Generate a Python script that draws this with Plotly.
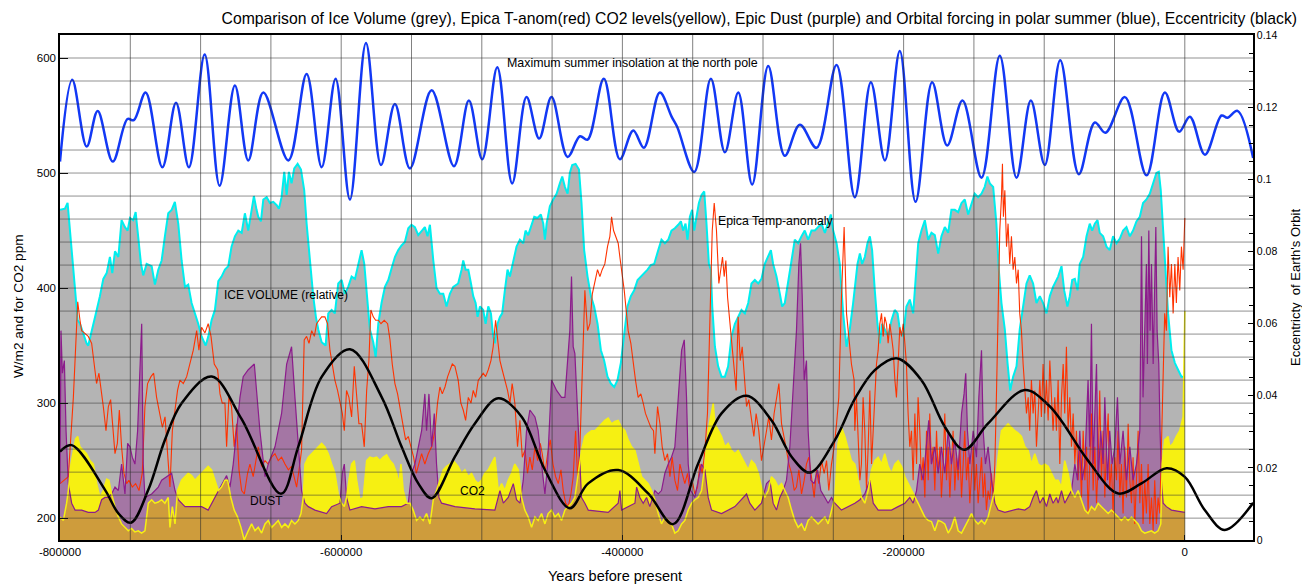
import plotly.graph_objects as go

# ---------------- data (x in thousands of years, y in left-axis units unless noted) -------------
ICE = [(-800.0,468),(-796.5,469),(-794.6,474),(-792.9,450),(-790.5,421),(-788.9,398),(-787.4,372),(-785.8,369),
(-783.4,361),(-781.1,352),(-779.9,350),(-778.0,359),(-776.3,369),(-773.9,381),(-771.6,393),(-769.2,408),(-766.8,413),
(-764.5,427),(-762.8,413),(-760.9,432),(-758.5,427),(-756.2,459),(-753.8,453),(-751.9,450),(-750.2,461),(-747.9,459),
(-746.2,466),(-744.3,445),(-742.4,421),(-740.8,411),(-738.4,421),(-734.8,419),(-732.5,403),(-730.1,416),(-727.7,424),
(-725.4,445),(-723.0,465),(-720.6,468),(-718.3,475),(-715.9,456),(-713.5,424),(-711.1,401),(-708.8,403),(-706.4,387),
(-704.0,378),(-701.7,369),(-699.3,358),(-696.4,350),(-694.5,358),(-692.2,372),(-689.8,381),(-687.4,406),(-685.1,410),
(-682.7,416),(-680.3,419),(-678.0,436),(-675.6,445),(-673.2,450),(-670.8,448),(-668.5,465),(-666.1,450),(-663.7,466),
(-662.1,480),(-660.2,468),(-659.0,462),(-657.1,458),(-655.4,477),(-653.0,479),(-650.7,474),(-648.3,475),(-645.9,472),
(-644.3,469),(-642.4,479),(-640.5,501),(-638.8,481),(-637.2,501),(-635.3,491),(-633.4,504),(-631.0,508),(-628.6,503),
(-626.3,485),(-624.6,456),(-622.2,421),(-619.9,393),(-618.0,375),(-616.3,364),(-613.9,353),(-611.1,350),(-609.2,378),
(-606.8,381),(-604.5,378),(-602.1,404),(-599.7,407),(-597.4,395),(-595.0,401),(-592.6,410),(-590.2,408),(-587.9,419),
(-585.5,433),(-583.6,421),(-582.0,395),(-579.6,364),(-577.2,353),(-575.5,340),(-573.6,369),(-571.3,387),(-568.9,401),
(-566.5,407),(-564.2,417),(-561.8,427),(-559.4,433),(-557.1,437),(-554.7,440),(-552.3,452),(-550.0,455),(-547.6,453),
(-545.2,446),(-542.8,450),(-540.5,453),(-538.6,445),(-536.9,455),(-534.5,424),(-532.2,400),(-529.8,395),(-527.4,395),
(-525.1,384),(-522.7,395),(-520.3,401),(-516.8,404),(-514.4,416),(-513.2,424),(-511.5,416),(-509.6,416),(-507.7,404),
(-506.1,393),(-504.4,387),(-503.0,375),(-501.3,384),(-499.0,381),(-497.3,369),(-495.4,384),(-493.5,378),(-491.9,358),
(-490.7,352),(-488.8,369),(-487.1,375),(-485.5,378),(-483.6,398),(-481.7,416),(-480.0,410),(-477.6,424),(-475.3,436),
(-472.9,442),(-470.5,439),(-468.9,450),(-467.0,446),(-465.1,453),(-462.7,462),(-460.3,461),(-458.0,464),(-456.3,456),
(-455.1,442),(-453.9,456),(-451.6,471),(-449.2,477),(-446.8,482),(-444.5,491),(-442.8,497),(-440.9,488),(-439.0,482),
(-437.4,500),(-435.7,507),(-433.3,508),(-430.9,503),(-429.1,474),(-427.2,433),(-424.8,410),(-422.4,393),(-420.1,384),
(-417.7,369),(-415.3,346),(-413.0,337),(-410.6,323),(-408.2,317),(-405.8,314),(-403.5,320),(-401.1,335),(-398.7,358),
(-396.4,384),(-394.0,393),(-391.6,398),(-389.2,407),(-386.9,410),(-384.5,413),(-382.1,416),(-379.8,420),(-377.4,421),
(-374.5,433),(-372.2,442),(-369.8,439),(-367.4,442),(-365.1,450),(-362.7,452),(-360.3,455),(-358.4,458),(-356.8,450),
(-355.1,456),(-353.7,442),(-352.0,462),(-350.4,468),(-348.9,450),(-347.3,462),(-345.6,474),(-343.7,481),(-341.8,484),
(-340.2,456),(-338.5,421),(-337.1,416),(-336.1,384),(-334.2,349),(-331.9,332),(-329.5,323),(-327.1,323),(-324.8,332),
(-322.4,358),(-320.0,369),(-317.7,375),(-315.3,381),(-312.9,378),(-310.5,387),(-308.2,404),(-305.8,407),(-303.4,404),
(-301.1,408),(-298.7,421),(-296.3,427),(-294.4,433),(-292.8,421),(-290.4,410),(-288.0,395),(-286.4,384),(-284.5,387),
(-282.1,404),(-279.7,424),(-277.4,442),(-275.0,439),(-272.6,445),(-270.3,450),(-267.9,442),(-265.5,450),(-263.1,450),
(-260.8,453),(-258.4,456),(-256.0,448),(-253.7,456),(-251.8,464),(-250.1,450),(-247.7,439),(-245.4,421),(-243.0,378),
(-240.6,349),(-238.3,364),(-235.9,387),(-232.8,421),(-231.1,430),(-229.5,421),(-227.6,427),(-225.7,439),(-224.0,445),
(-222.4,433),(-220.5,398),(-218.6,369),(-216.9,352),(-215.3,369),(-213.4,364),(-211.0,358),(-208.6,372),(-206.3,381),
(-204.3,378),(-202.7,364),(-200.3,358),(-198.0,384),(-195.6,390),(-193.2,378),(-191.5,407),(-189.6,439),(-187.3,450),
(-184.9,459),(-182.5,442),(-180.2,448),(-177.8,446),(-175.4,430),(-173.1,445),(-170.7,453),(-168.3,448),(-166.0,468),
(-163.6,468),(-161.2,466),(-158.8,474),(-156.5,477),(-154.1,464),(-151.7,474),(-149.4,482),(-147.0,479),(-144.6,482),
(-142.3,488),(-140.4,497),(-138.7,491),(-136.3,488),(-134.0,456),(-132.3,416),(-130.4,387),(-128.0,364),(-126.1,335),
(-124.2,311),(-122.1,323),(-119.7,332),(-117.4,364),(-115.0,384),(-112.6,404),(-110.3,411),(-107.9,404),(-105.5,387),
(-103.1,393),(-100.8,387),(-98.4,378),(-96.0,393),(-93.7,401),(-90.1,410),(-87.7,419),(-85.8,398),(-83.5,384),
(-81.8,393),(-80.1,407),(-78.2,408),(-76.3,398),(-74.7,421),(-72.3,427),(-69.9,445),(-67.6,456),(-65.9,450),(-64.0,456),
(-62.1,459),(-60.5,448),(-58.1,445),(-55.7,436),(-53.4,433),(-51.0,445),(-48.6,439),(-46.2,443),(-43.9,450),(-41.5,453),
(-39.1,445),(-36.8,450),(-34.4,458),(-32.0,462),(-29.7,474),(-27.3,477),(-24.9,482),(-22.5,491),(-20.2,500),(-18.5,501),
(-17.1,485),(-15.4,450),(-13.8,416),(-11.9,378),(-9.5,346),(-7.1,335),(-4.8,329),(-2.4,323),(0.0,323)]

CO2 = [(-800.0,201),(-797.6,198),(-795.3,213),(-794.1,224),(-792.2,247),(-790.5,259),(-788.9,269),(-787.4,271),
(-785.8,262),(-783.4,259),(-781.1,256),(-778.7,250),(-776.3,247),(-773.9,230),(-771.6,218),(-769.2,224),(-766.8,234),
(-765.2,233),(-763.3,221),(-760.9,210),(-758.5,201),(-756.2,195),(-753.8,192),(-751.4,189),(-749.1,191),(-746.7,188),
(-744.3,189),(-742.0,187),(-739.6,189),(-737.2,213),(-734.8,216),(-732.5,213),(-730.1,214),(-727.7,216),(-725.4,213),
(-723.0,218),(-721.8,192),(-720.1,210),(-718.2,195),(-716.4,224),(-713.5,233),(-711.1,236),(-708.8,239),(-706.4,237),
(-704.0,233),(-701.7,236),(-699.3,239),(-696.9,242),(-694.6,245),(-692.2,242),(-689.8,233),(-687.4,224),(-685.1,227),
(-682.7,233),(-680.8,233),(-678.5,218),(-676.1,207),(-673.7,201),(-671.3,192),(-669.0,181),(-666.1,189),(-663.7,195),
(-661.3,189),(-659.0,192),(-656.6,187),(-654.2,195),(-651.9,198),(-649.5,192),(-647.1,195),(-644.8,198),(-642.4,192),
(-640.0,195),(-637.6,192),(-635.3,198),(-632.9,195),(-630.5,198),(-628.6,204),(-627.0,218),(-625.8,247),(-623.4,253),
(-621.0,256),(-618.7,259),(-616.3,262),(-613.9,265),(-611.6,262),(-609.2,256),(-606.8,247),(-604.5,239),(-602.1,221),
(-599.7,213),(-597.8,210),(-596.2,218),(-594.5,233),(-592.6,247),(-590.7,250),(-589.0,233),(-586.7,216),(-584.3,218),
(-581.9,250),(-579.6,253),(-577.2,252),(-574.8,253),(-572.5,250),(-570.1,253),(-567.7,255),(-565.3,250),(-563.0,247),
(-560.6,239),(-558.9,230),(-557.5,247),(-555.9,224),(-553.5,213),(-551.1,213),(-548.8,207),(-546.4,198),(-544.0,201),
(-541.7,198),(-539.3,204),(-536.9,195),(-534.5,216),(-532.2,224),(-529.8,233),(-527.4,242),(-525.1,245),(-522.7,247),
(-520.3,250),(-516.8,245),(-514.4,239),(-512.0,242),(-509.6,236),(-507.3,239),(-504.9,233),(-502.5,230),(-500.2,233),
(-497.8,239),(-495.4,242),(-493.1,247),(-490.7,253),(-488.3,224),(-485.9,230),(-483.6,224),(-481.2,233),(-478.8,239),
(-476.5,247),(-474.1,242),(-471.7,218),(-469.4,207),(-467.0,201),(-464.6,192),(-462.2,201),(-459.9,198),(-457.5,204),
(-455.1,195),(-452.8,204),(-450.4,207),(-448.0,201),(-445.6,204),(-443.3,198),(-440.9,207),(-438.5,210),(-436.2,213),
(-433.8,218),(-431.4,239),(-429.1,259),(-426.7,271),(-424.3,274),(-421.9,276),(-419.6,276),(-417.2,279),(-414.8,282),
(-412.5,285),(-410.1,287),(-407.7,282),(-405.4,284),(-403.0,285),(-400.6,279),(-398.2,276),(-395.9,268),(-393.5,262),
(-391.1,259),(-388.8,247),(-386.4,236),(-384.0,233),(-381.7,230),(-379.3,224),(-376.9,216),(-374.5,204),(-372.2,195),
(-369.8,201),(-367.4,198),(-365.1,195),(-362.7,187),(-360.3,189),(-357.9,195),(-355.6,198),(-353.2,207),(-350.8,213),
(-348.5,216),(-346.1,218),(-343.7,224),(-341.3,247),(-339.0,276),(-336.6,291),(-335.4,300),(-334.2,282),(-331.9,276),
(-329.5,271),(-327.1,262),(-324.8,265),(-322.4,259),(-320.0,256),(-317.7,259),(-315.3,253),(-312.9,247),(-310.5,242),
(-308.2,250),(-305.8,247),(-303.4,239),(-301.1,227),(-298.7,218),(-296.3,224),(-294.0,236),(-291.6,233),(-289.2,227),
(-286.8,230),(-284.5,224),(-282.1,218),(-279.7,207),(-277.4,198),(-275.0,192),(-272.6,195),(-270.3,189),(-267.9,198),
(-265.5,201),(-263.1,198),(-260.8,195),(-258.4,198),(-256.0,201),(-253.7,195),(-251.3,207),(-248.9,218),(-246.6,265),
(-244.2,279),(-241.8,271),(-239.4,259),(-237.1,250),(-234.7,247),(-232.3,233),(-229.9,218),(-227.6,213),(-225.2,224),
(-222.8,242),(-220.5,250),(-218.1,253),(-215.7,247),(-213.4,256),(-211.0,245),(-208.6,239),(-206.2,247),(-203.9,250),
(-201.5,245),(-199.1,236),(-196.8,230),(-194.4,224),(-192.0,218),(-189.7,213),(-187.3,207),(-184.9,201),(-182.5,198),
(-180.2,197),(-177.8,189),(-175.4,198),(-173.1,197),(-170.7,195),(-168.3,187),(-166.0,192),(-163.6,201),(-161.2,189),
(-158.8,187),(-156.5,192),(-154.1,198),(-151.7,204),(-149.4,198),(-147.0,195),(-144.6,198),(-142.3,195),(-139.9,201),
(-137.5,213),(-135.1,224),(-132.8,253),(-130.4,276),(-128.0,279),(-125.7,282),(-123.3,279),(-120.9,276),(-118.5,274),
(-116.2,271),(-113.8,262),(-111.4,259),(-109.1,247),(-106.7,256),(-104.3,247),(-101.9,245),(-99.6,247),(-97.2,245),
(-94.8,239),(-92.5,233),(-90.1,233),(-87.7,227),(-85.4,250),(-83.0,239),(-80.6,224),(-78.2,218),(-75.9,224),(-73.5,216),
(-71.1,207),(-68.8,204),(-66.4,210),(-64.0,207),(-61.6,213),(-59.3,210),(-56.9,207),(-54.5,204),(-52.2,207),(-49.8,204),
(-47.4,201),(-45.1,198),(-42.7,201),(-40.3,198),(-37.9,201),(-35.6,198),(-33.2,195),(-30.8,189),(-28.5,187),(-26.1,188),
(-23.7,189),(-21.4,187),(-19.0,189),(-17.1,195),(-16.1,247),(-14.3,268),(-11.9,271),(-10.7,262),(-8.3,265),(-6.0,271),
(-3.6,276),(-1.2,288),(0.0,380)]

DUST = [(-800.0,230),(-799.3,363),(-798.3,326),(-796.9,337),(-795.7,276),(-794.1,230),(-791.7,213),(-789.3,207),
(-784.6,207),(-779.9,205),(-775.1,205),(-772.7,207),(-770.4,216),(-768.0,218),(-765.6,218),(-763.3,221),(-760.9,227),
(-758.5,224),(-756.2,247),(-753.8,221),(-751.9,265),(-750.2,262),(-748.6,253),(-746.7,247),(-744.8,276),(-743.1,334),
(-741.9,369),(-740.8,247),(-739.6,218),(-734.8,221),(-730.1,227),(-727.7,233),(-724.2,236),(-720.6,239),(-718.2,224),
(-715.9,216),(-711.1,210),(-699.3,210),(-694.6,207),(-689.8,218),(-685.1,230),(-681.5,237),(-679.1,227),(-676.8,247),
(-674.4,276),(-672.0,305),(-669.7,323),(-666.1,329),(-661.8,334),(-657.8,276),(-654.2,236),(-651.9,247),(-647.1,262),
(-642.4,291),(-638.8,334),(-635.3,349),(-632.9,305),(-630.5,262),(-628.2,224),(-625.8,213),(-623.4,210),(-618.7,207),
(-610.4,204),(-606.8,210),(-600.9,213),(-599.2,239),(-597.8,247),(-596.2,218),(-593.8,207),(-585.5,210),(-576.0,208),
(-566.5,210),(-557.1,210),(-552.3,213),(-550.0,239),(-547.6,247),(-545.2,262),(-542.8,276),(-540.5,308),(-539.3,276),
(-537.6,308),(-535.7,262),(-533.8,291),(-532.2,247),(-530.5,218),(-528.6,213),(-519.1,210),(-504.9,208),(-490.7,207),
(-487.1,224),(-484.7,213),(-481.2,218),(-477.6,230),(-475.3,216),(-472.9,213),(-470.5,233),(-468.2,276),(-465.8,294),
(-462.2,288),(-459.9,276),(-457.5,247),(-455.1,221),(-453.2,247),(-451.6,291),(-450.4,320),(-446.8,311),(-443.3,305),
(-440.9,305),(-439.0,334),(-437.4,363),(-436.2,410),(-435.0,349),(-433.8,343),(-431.9,291),(-430.2,247),(-429.1,218),
(-426.7,213),(-424.3,207),(-410.1,205),(-403.0,213),(-401.8,224),(-400.6,207),(-391.1,213),(-389.9,227),(-387.6,218),
(-385.2,213),(-382.8,218),(-380.5,210),(-376.9,224),(-374.5,221),(-372.2,224),(-369.8,239),(-367.4,247),(-365.1,253),
(-362.7,262),(-360.3,305),(-357.9,346),(-356.0,355),(-354.4,305),(-353.2,247),(-351.3,224),(-348.5,218),(-346.1,233),
(-343.7,247),(-341.3,242),(-339.0,218),(-336.6,207),(-329.5,204),(-320.0,210),(-315.3,216),(-311.7,221),(-309.4,213),
(-305.8,207),(-301.1,213),(-297.5,230),(-295.1,233),(-292.8,213),(-290.4,207),(-288.0,218),(-285.7,224),(-283.3,233),
(-280.9,262),(-278.5,320),(-276.2,363),(-274.5,421),(-273.3,439),(-272.1,392),(-270.7,320),(-269.1,337),(-267.9,276),
(-266.0,233),(-263.6,230),(-261.2,242),(-258.9,224),(-256.0,218),(-253.7,213),(-251.3,218),(-248.9,213),(-244.2,207),
(-239.4,210),(-234.7,213),(-231.1,216),(-227.6,221),(-224.0,233),(-221.6,213),(-218.1,207),(-208.6,207),(-203.9,210),
(-199.1,213),(-195.6,218),(-193.2,213),(-190.8,224),(-188.5,247),(-186.1,233),(-183.7,262),(-182.1,285),(-180.2,247),
(-177.8,262),(-175.4,239),(-173.1,262),(-170.7,239),(-168.3,276),(-166.0,247),(-163.6,268),(-161.2,242),(-158.8,291),
(-157.0,308),(-155.8,326),(-154.6,276),(-152.9,247),(-150.5,276),(-148.2,253),(-146.5,305),(-144.6,346),(-143.4,276),
(-141.8,247),(-139.9,262),(-137.5,233),(-135.1,213),(-132.8,207),(-128.0,205),(-118.5,208),(-113.8,207),(-110.3,210),
(-107.9,218),(-105.5,224),(-103.1,213),(-100.8,218),(-98.4,210),(-96.0,221),(-93.7,213),(-91.3,218),(-90.1,213),
(-87.7,224),(-85.4,213),(-83.0,218),(-80.6,224),(-78.2,247),(-76.3,233),(-74.7,276),(-73.0,233),(-71.1,247),(-68.8,320),
(-67.6,262),(-66.4,369),(-65.2,247),(-64.0,291),(-62.8,334),(-61.6,233),(-59.8,276),(-58.1,247),(-56.9,305),(-55.0,233),
(-53.4,276),(-51.7,247),(-49.8,262),(-47.9,305),(-46.2,247),(-43.9,276),(-41.5,233),(-39.1,262),(-36.8,233),(-34.4,247),
(-32.0,276),(-30.8,445),(-29.7,305),(-28.5,363),(-27.3,421),(-26.6,334),(-25.6,450),(-24.7,363),(-23.7,421),(-22.5,334),
(-21.4,392),(-20.6,453),(-19.7,363),(-18.5,334),(-17.6,276),(-16.6,233),(-15.4,213),(-13.1,210),(-9.5,207),(0.0,205)]

TEMP = [(-800.0,230),(-794.1,236),(-790.5,305),(-787.4,388),(-785.8,372),(-784.6,363),(-782.7,361),(-779.9,358),
(-777.5,352),(-775.6,334),(-774.0,317),(-772.3,326),(-770.9,314),(-769.2,297),(-767.3,276),(-765.6,297),(-764.0,303),
(-762.6,282),(-760.9,256),(-759.2,265),(-757.8,294),(-756.2,262),(-754.5,239),(-752.6,230),(-751.0,233),(-748.6,227),
(-746.2,230),(-743.8,224),(-741.5,239),(-739.6,297),(-737.7,317),(-735.3,323),(-733.4,326),(-731.3,305),(-728.9,291),
(-727.2,279),(-725.3,288),(-723.5,256),(-721.8,227),(-720.1,276),(-718.2,294),(-716.4,311),(-714.7,320),(-712.3,317),
(-709.9,323),(-707.6,334),(-705.2,346),(-702.8,363),(-701.2,346),(-699.3,366),(-696.9,361),(-694.6,369),(-692.6,358),
(-690.3,334),(-687.9,329),(-686.2,308),(-684.6,300),(-682.7,300),(-681.5,262),(-679.9,305),(-678.0,297),(-676.1,262),
(-674.4,282),(-672.7,242),(-670.8,224),(-668.9,221),(-666.6,239),(-664.9,247),(-662.6,236),(-659.0,262),(-656.6,245),
(-654.2,250),(-651.9,247),(-649.5,253),(-647.1,256),(-644.8,250),(-642.4,253),(-640.0,247),(-637.6,242),(-635.3,245),
(-633.4,236),(-631.7,227),(-630.0,242),(-628.2,259),(-626.3,355),(-624.6,358),(-622.9,352),(-621.0,363),(-619.1,358),
(-617.5,369),(-615.8,372),(-613.9,375),(-611.6,375),(-609.7,369),(-608.0,346),(-606.4,332),(-604.5,320),(-602.6,311),
(-600.9,300),(-599.2,291),(-597.8,276),(-596.2,311),(-594.5,305),(-592.6,288),(-590.7,332),(-589.0,305),(-587.4,282),
(-585.5,282),(-583.6,262),(-581.9,311),(-580.3,337),(-578.9,381),(-577.2,375),(-575.5,372),(-573.6,372),(-571.7,369),
(-569.4,372),(-567.0,369),(-565.3,355),(-563.7,334),(-561.8,317),(-559.9,308),(-558.0,294),(-556.1,282),(-554.2,268),
(-552.3,271),(-550.4,262),(-548.5,253),(-546.6,239),(-544.7,247),(-542.8,256),(-540.5,247),(-538.1,256),(-535.7,262),
(-533.3,276),(-531.5,300),(-529.8,314),(-528.1,308),(-526.2,314),(-524.3,323),(-522.7,329),(-521.0,334),(-519.1,332),
(-516.8,320),(-514.9,300),(-513.2,294),(-511.5,285),(-509.6,305),(-507.7,300),(-506.1,311),(-504.4,305),(-502.5,320),
(-500.6,323),(-499.0,326),(-497.3,323),(-495.4,329),(-493.5,337),(-491.9,349),(-490.2,372),(-488.8,355),(-487.1,337),
(-485.5,329),(-483.6,320),(-481.7,311),(-480.0,300),(-478.4,317),(-476.5,300),(-474.6,262),(-472.9,285),(-471.2,253),
(-469.3,259),(-467.5,239),(-465.8,253),(-464.1,242),(-462.2,262),(-460.3,250),(-458.4,265),(-457.0,256),(-455.1,239),
(-453.2,256),(-451.3,268),(-449.4,247),(-447.5,236),(-445.6,230),(-443.7,242),(-442.1,224),(-440.4,213),(-438.5,210),
(-436.6,221),(-435.0,236),(-433.3,276),(-431.9,236),(-430.2,262),(-428.6,334),(-426.7,398),(-424.8,363),(-423.1,369),
(-421.4,395),(-419.6,404),(-417.7,416),(-416.0,410),(-414.4,416),(-412.5,421),(-410.6,436),(-408.9,445),(-407.7,462),
(-406.3,450),(-404.9,445),(-403.0,439),(-401.8,427),(-400.6,416),(-398.7,398),(-397.1,378),(-395.9,363),(-394.0,352),
(-392.3,334),(-390.7,320),(-388.8,305),(-386.9,308),(-385.2,300),(-383.6,291),(-381.7,285),(-379.8,279),(-377.9,276),
(-376.9,256),(-375.0,297),(-373.3,282),(-371.7,262),(-369.8,250),(-367.9,256),(-366.2,236),(-364.6,253),(-362.7,233),
(-360.8,224),(-359.1,247),(-357.5,239),(-355.6,230),(-353.7,239),(-352.0,224),(-350.4,233),(-348.5,221),(-346.6,227),
(-344.9,247),(-343.2,239),(-341.3,259),(-339.5,291),(-337.8,363),(-336.1,450),(-334.7,474),(-333.1,450),(-331.4,404),
(-330.0,416),(-328.8,427),(-327.6,410),(-326.4,424),(-325.2,392),(-323.6,372),(-321.9,352),(-320.5,334),(-319.1,311),
(-317.7,375),(-316.2,337),(-314.8,349),(-313.4,323),(-311.7,297),(-310.1,303),(-308.2,285),(-306.5,271),(-304.9,291),
(-303.0,276),(-301.1,250),(-299.2,262),(-297.5,276),(-295.9,288),(-294.0,268),(-292.1,291),(-290.4,305),(-288.7,317),
(-286.8,282),(-284.9,271),(-283.3,259),(-281.6,247),(-279.7,239),(-277.8,224),(-276.2,227),(-274.5,242),(-272.6,221),
(-270.7,233),(-269.1,247),(-267.4,253),(-265.5,233),(-263.6,218),(-262.0,242),(-260.3,230),(-258.4,250),(-256.5,239),
(-254.8,250),(-253.2,224),(-251.3,247),(-249.4,262),(-247.7,282),(-246.1,305),(-244.2,392),(-242.3,453),(-240.6,378),
(-239.0,358),(-237.1,334),(-235.2,320),(-234.7,276),(-233.5,305),(-232.3,262),(-231.1,233),(-230.0,247),(-228.8,305),
(-227.6,276),(-226.4,224),(-225.2,262),(-224.0,311),(-222.8,247),(-221.6,276),(-220.5,300),(-219.3,334),(-218.1,346),
(-216.9,369),(-215.7,378),(-214.5,358),(-213.4,375),(-212.2,369),(-211.0,352),(-209.8,369),(-208.6,358),(-207.4,346),
(-206.2,320),(-205.1,305),(-203.9,334),(-202.7,366),(-201.5,358),(-200.3,369),(-199.1,352),(-198.0,334),(-196.8,291),
(-195.6,262),(-194.4,276),(-193.2,233),(-192.0,291),(-190.8,247),(-189.7,305),(-188.5,276),(-187.3,233),(-186.1,253),
(-184.9,218),(-183.7,276),(-182.5,233),(-181.4,291),(-180.2,247),(-179.0,262),(-177.8,224),(-176.6,276),(-175.4,239),
(-174.2,262),(-173.1,218),(-171.9,247),(-170.7,291),(-169.5,233),(-168.3,262),(-167.1,218),(-166.0,247),(-164.8,276),
(-163.6,224),(-162.4,253),(-161.2,233),(-160.0,262),(-158.8,218),(-157.7,247),(-156.5,276),(-155.3,233),(-154.1,253),
(-152.9,213),(-151.7,239),(-150.5,262),(-149.4,224),(-148.2,247),(-147.0,213),(-145.8,233),(-144.6,253),(-143.4,218),
(-142.3,239),(-141.1,207),(-139.9,224),(-138.7,216),(-137.5,239),(-136.3,218),(-135.1,247),(-134.0,305),(-132.8,392),
(-131.6,450),(-130.4,479),(-129.7,508),(-129.0,462),(-128.0,485),(-126.8,436),(-125.7,456),(-124.5,421),(-123.3,445),
(-122.1,416),(-120.9,427),(-119.7,404),(-118.5,416),(-117.4,378),(-116.2,363),(-115.0,334),(-113.8,311),(-112.6,291),
(-111.4,305),(-110.3,276),(-109.1,320),(-107.9,291),(-106.7,311),(-105.5,262),(-104.3,291),(-103.1,320),(-102.0,288),
(-100.8,334),(-99.6,291),(-98.4,320),(-97.2,285),(-96.0,337),(-94.8,305),(-93.7,276),(-92.5,305),(-91.3,276),(-90.1,320),
(-88.9,247),(-87.7,305),(-86.5,334),(-85.4,291),(-84.2,349),(-83.0,276),(-81.8,305),(-80.6,262),(-79.4,291),(-78.2,247),
(-77.1,276),(-75.9,233),(-74.7,262),(-73.5,218),(-72.3,276),(-71.1,233),(-69.9,262),(-68.8,204),(-67.6,247),(-66.4,291),
(-65.2,224),(-64.0,262),(-62.8,213),(-61.6,247),(-60.5,311),(-59.3,233),(-58.1,276),(-56.9,218),(-55.7,262),(-54.5,291),
(-53.4,224),(-52.2,247),(-51.0,204),(-49.8,253),(-48.6,233),(-47.4,276),(-46.2,218),(-45.1,247),(-43.9,204),(-42.7,262),
(-41.5,218),(-40.3,282),(-39.1,233),(-37.9,213),(-36.8,253),(-35.6,195),(-34.4,233),(-33.2,276),(-32.0,213),(-30.8,247),
(-29.7,195),(-28.5,233),(-27.3,204),(-26.1,247),(-24.9,195),(-23.7,218),(-22.5,189),(-21.4,233),(-20.2,195),(-19.0,218),
(-17.8,204),(-17.1,247),(-16.1,305),(-15.2,334),(-14.3,378),(-13.1,363),(-11.9,436),(-10.7,392),(-9.5,421),(-8.3,378),
(-7.1,421),(-6.0,387),(-4.8,427),(-3.6,398),(-2.4,436),(-1.2,416),(0.0,461)]

INSOLATION = [(-800.0,510),(-791.3,581),(-781.0,523),(-773.2,554),(-762.5,510),(-752.0,547),(-747.5,546),(-739.1,570),
(-727.2,505),(-717.5,561),(-708.3,505),(-697.1,603),(-686.5,489),(-675.6,576),(-666.1,511),(-655.4,570),(-637.6,511),
(-624.6,586),(-613.9,505),(-604.0,582),(-593.8,477),(-582.4,613),(-571.7,507),(-561.8,560),(-551.1,504),(-535.7,572),
(-519.8,506),(-509.2,563),(-499.7,512),(-489.0,592),(-478.4,491),(-468.2,566),(-459.2,530),(-450.4,566),(-439.0,514),
(-430.2,532),(-424.8,529),(-413.2,582),(-401.8,512),(-392.3,537),(-384.7,522),(-373.4,570),(-365.0,549),(-361.0,540),
(-348.9,501),(-337.1,582),(-327.1,518),(-317.6,570),(-307.7,490),(-296.3,593),(-284.5,515),(-273.8,542),(-261.9,522),
(-247.7,594),(-234.7,479),(-223.3,579),(-213.3,511),(-202.7,606),(-191.5,475),(-179.7,579),(-169.0,524),(-158.1,563),
(-144.6,496),(-131.6,602),(-119.7,496),(-109.5,563),(-99.6,507),(-88.6,598),(-75.4,499),(-64.0,544),(-56.4,535),
(-42.6,566),(-27.2,498),(-14.2,570),(-4.0,536),(3.6,549),(14.3,516),(26.1,550),(30.3,548),(37.5,554),(48.6,513)]

# eccentricity (right axis)
ECCENTRICITY = [(-800.0,0.0245),(-791.7,0.0263),(-768.0,0.0139),(-758.5,0.0074),(-749.5,0.0048),(-737.2,0.0139),
(-725.4,0.0277),(-713.5,0.0379),(-692.1,0.0453),(-670.8,0.0335),(-642.8,0.0128),
(-630.5,0.0259),(-613.9,0.0452),(-593.8,0.0529),(-571.3,0.0397),(-557.1,0.0259),(-545.2,0.0157),(-535.7,0.0116),
(-519.1,0.0231),(-504.9,0.0323),(-488.3,0.0393),(-471.7,0.0342),(-455.1,0.0194),(-437.3,0.0088),(-424.3,0.0157),
(-403.0,0.0194),(-381.7,0.0129),(-363.9,0.0044),(-346.1,0.0212),(-329.5,0.0351),(-311.7,0.0400),(-294.0,0.0332),
(-279.7,0.0231),(-266.7,0.0187),(-248.9,0.0277),(-234.7,0.0391),(-220.5,0.0471),(-205.0,0.0504),(-187.3,0.0443),
(-170.7,0.0314),(-156.9,0.0250),(-139.9,0.0323),(-113.8,0.0416),(-97.2,0.0375),(-87.7,0.0330),(-68.8,0.0220),
(-47.4,0.0129),(-30.8,0.0157),(-13.0,0.0199),(0.0,0.0175),(14.2,0.0083),(28.4,0.0028),(48.6,0.0103)]

X_TICKS = [-800000, -600000, -400000, -200000, 0]
X_TICK_TEXT = ["-800000", "-600000", "-400000", "-200000", "0"]
Y_TICKS = [200, 300, 400, 500, 600]

TITLE = ("Comparison of Ice Volume (grey), Epica T-anom(red) CO2 levels(yellow), Epic Dust (purple) "
         "and Orbital forcing in polar summer (blue), Eccentricity (black)")

FONT = "Liberation Sans, Arial, Helvetica, sans-serif"


def xs(series):
    return [k * 1000 for k, _ in series]


def ys(series):
    return [v for _, v in series]


fig = go.Figure()

# grey ice volume with cyan edge
fig.add_trace(go.Scatter(x=xs(ICE), y=ys(ICE), mode="lines", fill="tozeroy",
                         fillcolor="#b4b4b4", line=dict(color="#00eeee", width=2),
                         hoverinfo="skip", showlegend=False))
# yellow CO2 fill
fig.add_trace(go.Scatter(x=xs(CO2), y=ys(CO2), mode="lines", fill="tozeroy",
                         fillcolor="#f6f012", line=dict(color="#f6f012", width=0),
                         hoverinfo="skip", showlegend=False))
# translucent purple dust fill
fig.add_trace(go.Scatter(x=xs(DUST), y=ys(DUST), mode="lines", fill="tozeroy",
                         fillcolor="rgba(137,9,137,0.36)", line=dict(width=0),
                         hoverinfo="skip", showlegend=False))
# red Epica temperature anomaly
fig.add_trace(go.Scatter(x=xs(TEMP), y=ys(TEMP), mode="lines",
                         line=dict(color="#ff3300", width=1.1),
                         hoverinfo="skip", showlegend=False))
# purple dust line
fig.add_trace(go.Scatter(x=xs(DUST), y=ys(DUST), mode="lines",
                         line=dict(color="#8c1c8c", width=1.2),
                         hoverinfo="skip", showlegend=False))
# yellow CO2 line
fig.add_trace(go.Scatter(x=xs(CO2), y=ys(CO2), mode="lines",
                         line=dict(color="#f6f012", width=1.5),
                         hoverinfo="skip", showlegend=False))
# blue insolation
fig.add_trace(go.Scatter(x=xs(INSOLATION), y=ys(INSOLATION), mode="lines",
                         line=dict(color="#1238f5", width=2.5, shape="spline", smoothing=1.0),
                         hoverinfo="skip", showlegend=False))
# black eccentricity on right axis
fig.add_trace(go.Scatter(x=xs(ECCENTRICITY), y=ys(ECCENTRICITY), mode="lines", yaxis="y2",
                         line=dict(color="black", width=2.5, shape="spline", smoothing=1.0),
                         hoverinfo="skip", showlegend=False))

# grid drawn above the filled areas (as in the original)
shapes = []
for gy in range(200, 620, 20):
    shapes.append(dict(type="line", xref="paper", yref="y", x0=0, x1=1, y0=gy, y1=gy,
                       line=dict(color="rgba(55,55,55,0.55)", width=1), layer="above"))
for gx in range(-750000, 1, 50000):
    shapes.append(dict(type="line", xref="x", yref="paper", x0=gx, x1=gx, y0=0, y1=1,
                       line=dict(color="rgba(45,45,45,0.6)", width=1), layer="above"))

L, R, T, B = 60, 49, 35, 44
W, H = 1302, 584
PW, PH = W - L - R, H - T - B


def px_x(px):
    return (px - L) / PW


def px_y(py):
    return (H - B - py) / PH


annotations = [
    dict(text="Maximum summer insolation at the north pole", x=-392500, y=595.5, xref="x", yref="y",
         showarrow=False, font=dict(size=12.4, color="black", family=FONT)),
    dict(text="Epica Temp-anomaly", x=-291200, y=458.5, xref="x", yref="y",
         showarrow=False, font=dict(size=12.3, color="black", family=FONT)),
    dict(text="ICE VOLUME (relative)", x=-639300, y=394, xref="x", yref="y",
         showarrow=False, font=dict(size=12, color="black", family=FONT)),
    dict(text="DUST", x=-652800, y=214.5, xref="x", yref="y",
         showarrow=False, font=dict(size=12, color="black", family=FONT)),
    dict(text="CO2", x=-506700, y=223.5, xref="x", yref="y",
         showarrow=False, font=dict(size=12, color="black", family=FONT)),
    dict(text="W/m2 and for CO2 ppm", x=px_x(18), y=px_y(306), xref="paper", yref="paper",
         xanchor="center", yanchor="middle", textangle=-90, showarrow=False,
         font=dict(size=13.6, color="black", family=FONT)),
    dict(text="Eccentricty  of Earth's Orbit", x=px_x(1295), y=px_y(288), xref="paper", yref="paper",
         xanchor="center", yanchor="middle", textangle=-90, showarrow=False,
         font=dict(size=13, color="black", family=FONT)),
    dict(text="Years before present", x=px_x(615), y=px_y(576), xref="paper", yref="paper",
         xanchor="center", yanchor="middle", showarrow=False,
         font=dict(size=14.5, color="black", family=FONT)),
]

fig.update_layout(
    width=W, height=H,
    margin=dict(l=L, r=R, t=T, b=B),
    paper_bgcolor="white", plot_bgcolor="white",
    font=dict(family=FONT, size=11, color="black"),
    title=dict(text=TITLE, x=1297 / W, xanchor="right", xref="container",
               y=1 - 18 / H, yanchor="middle", yref="container",
               font=dict(size=15.75, color="black", family=FONT)),
    showlegend=False,
    xaxis=dict(range=[-800000, 48500], tickvals=X_TICKS, ticktext=X_TICK_TEXT,
               showgrid=False, zeroline=False, showline=True, linecolor="black", linewidth=1.5,
               mirror=True, ticks="inside", ticklen=5, tickcolor="black",
               tickfont=dict(size=11.5)),
    yaxis=dict(range=[181, 620], tickvals=Y_TICKS, showgrid=False, zeroline=False,
               showline=True, linecolor="black", linewidth=1.5, ticks="inside", ticklen=8,
               tickcolor="black", tickfont=dict(size=11.5)),
    yaxis2=dict(range=[0, 0.14], overlaying="y", side="right", dtick=0.02, tick0=0,
                showgrid=False, zeroline=False, showline=True, linecolor="black", linewidth=1.5,
                ticks="inside", ticklen=5, tickcolor="black", tickfont=dict(size=10.5),
                minor=dict(dtick=0.005, ticks="inside", ticklen=4, tickcolor="black")),
    shapes=shapes,
    annotations=annotations,
)

fig.write_html("out.html",
               config={"displayModeBar": False, "staticPlot": False},
               post_script="document.body.style.margin='0';document.body.style.padding='0';"
                           "document.body.style.overflow='hidden';")
